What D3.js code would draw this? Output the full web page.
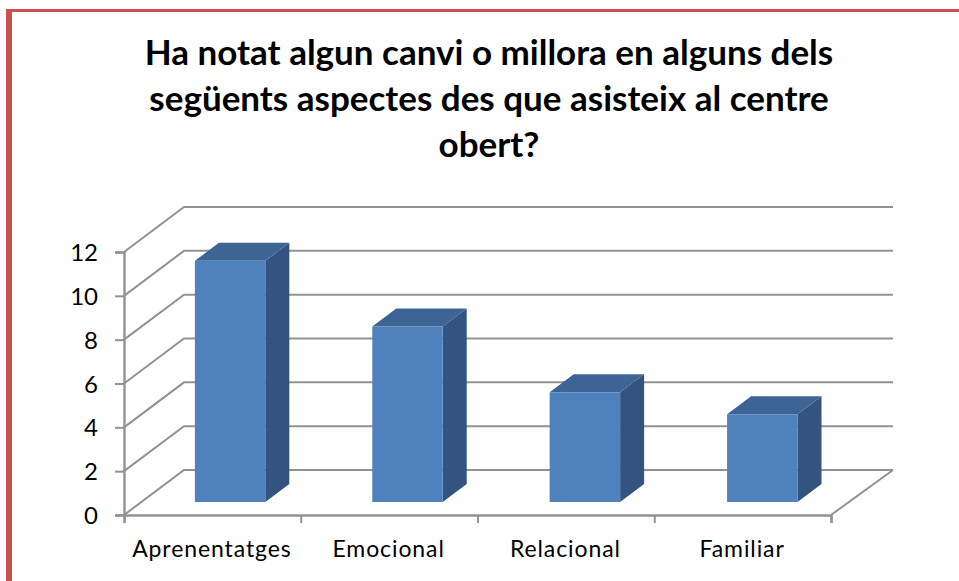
<!DOCTYPE html>
<html><head><meta charset="utf-8">
<script src="https://cdn.jsdelivr.net/npm/d3@7"></script>
<style>html,body{margin:0;padding:0;background:#fff}svg{display:block}text{font-family:Lato,"Open Sans",sans-serif;fill:#000}</style>
</head><body><svg id="c" width="959" height="581"></svg>
<script>
const categories = ["Aprenentatges","Emocional","Relacional","Familiar"];
const values = [11,8,5,4];
const yTicks = [0,2,4,6,8,10,12];
const titleLines = ["Ha notat algun canvi o millora en alguns dels","següents aspectes des que asisteix al centre","obert?"];

const svg = d3.select("#c");
const W = 959, H = 581;
const border = "#C9524F", grid = "#929292";
const colFront = "#4F81BD", colSide = "#335380", colTop = "#3D6494";

// border
svg.append("rect").attr("x",6).attr("y",9).attr("width",6).attr("height",H-9).attr("fill",border);
svg.append("rect").attr("x",6).attr("y",9).attr("width",W-6).attr("height",3).attr("fill",border);

// title
svg.append("g").selectAll("text").data(titleLines).join("text")
  .attr("x",489).attr("y",(d,i)=>65+i*46)
  .attr("text-anchor","middle").attr("font-size",35).attr("font-weight",700).text(d=>d);

// scales
const x = d3.scaleBand().domain(categories).range([124,831]).padding(0);
const xBar = d3.scaleBand().domain(categories).range([124,833.6]).padding(0);
const xBack = d3.scaleLinear().domain([0,1]).range([184,893]);
const y = d3.scaleLinear().domain([0,12]).range([515,252]);
const depthX = 60, depthY = 45;
const barNear = 0.29, barFar = 0.69, barWidth = 0.397;
const px = t => t*depthX, py = t => t*depthY;

// gridlines and floor
const gridG = svg.append("g").attr("fill","none").attr("stroke",grid).attr("stroke-width",2);
gridG.selectAll("path").data(yTicks).join("path")
  .attr("d",d=>{
    const p=d3.path();
    p.moveTo(x.range()[0],y(d));
    p.lineTo(xBack(0),y(d)-depthY);
    p.lineTo(xBack(1),y(d)-depthY);
    return p.toString();
  });
const floor=d3.path();
floor.moveTo(xBack(1),y(0)-depthY);
floor.lineTo(x.range()[1],y(0));
gridG.append("path").attr("d",floor.toString());

// axes
const yAxis = d3.axisLeft(y).tickValues(yTicks).tickSize(9).tickPadding(17);
const gy = svg.append("g").attr("transform","translate(124,0)").call(yAxis);
const xTickScale = d3.scaleLinear().domain([0,categories.length]).range(x.range());
const xAxis = d3.axisBottom(xTickScale).tickValues(d3.range(categories.length+1)).tickSize(8).tickFormat("");
const gx = svg.append("g").attr("transform","translate(0,515)").call(xAxis);
[gy,gx].forEach(g=>{
  g.selectAll("line").attr("stroke",grid).attr("stroke-width",2);
  g.select(".domain").attr("stroke",grid).attr("stroke-width",2.4);
  g.selectAll("text").attr("font-size",24).attr("font-family",'Lato,"Open Sans",sans-serif').attr("fill","#000");
});
gx.selectAll(".tick text").remove();
gy.selectAll(".tick text").attr("dy","0.36em");

// category labels
svg.append("g").selectAll("text").data(categories).join("text")
  .attr("x",d=>x(d)+x.bandwidth()/2-0.5).attr("y",557)
  .attr("text-anchor","middle").attr("font-size",23).attr("letter-spacing",0.9).text(d=>d);

// bars
const rows = categories.map((c,i)=>({c,v:values[i]}));
const bars = svg.append("g").selectAll("g").data(rows).join("g");
const poly = pts => pts.map(p=>p.join(",")).join(" ");
const geom = d => {
  const w = xBar.bandwidth()*barWidth;
  const l = xBar(d.c)+xBar.bandwidth()/2-w/2+px(barNear), r = l+w;
  const b = y(0)-py(barNear), t = b-(y(0)-y(d.v));
  const dx = px(barFar-barNear), dy = py(barFar-barNear);
  return {l,r,b,t,dx,dy};
};
bars.append("polygon").attr("fill",colSide).attr("points",d=>{const g=geom(d);
  return poly([[g.r,g.t],[g.r+g.dx,g.t-g.dy],[g.r+g.dx,g.b-g.dy],[g.r,g.b]]);});
bars.append("polygon").attr("fill",colTop).attr("points",d=>{const g=geom(d);
  return poly([[g.l,g.t],[g.l+g.dx,g.t-g.dy],[g.r+g.dx,g.t-g.dy],[g.r,g.t]]);});
bars.append("polygon").attr("fill",colFront).attr("points",d=>{const g=geom(d);
  return poly([[g.l,g.t],[g.r,g.t],[g.r,g.b],[g.l,g.b]]);});
</script></body></html>
